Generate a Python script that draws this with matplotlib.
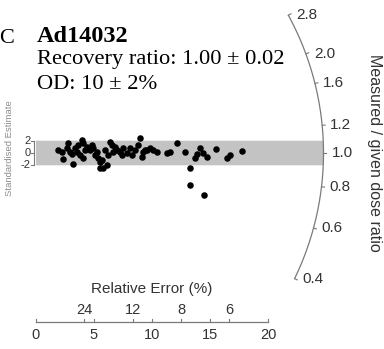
import matplotlib
matplotlib.use("Agg")
import matplotlib.pyplot as plt
import numpy as np

# precision (1/relative error) and standardised estimate of each aliquot
precision = [1.92, 2.22, 2.35, 2.65, 2.78, 2.93, 3.08, 3.16, 3.36, 3.51, 3.65, 3.79,
             3.94, 4.08, 4.08, 4.22, 4.37, 4.66, 4.80, 4.94, 5.09, 5.23, 5.37, 5.52,
             5.66, 5.80, 5.95, 6.09, 6.23, 6.38, 6.53, 6.66, 6.81, 6.96, 7.24, 7.39,
             7.53, 7.82, 8.10, 8.25, 8.53, 8.82, 8.97, 9.11, 9.25, 9.54, 9.40, 9.83,
             10.11, 10.41, 11.27, 11.55, 12.13, 12.84, 13.28, 13.28, 13.71, 13.85,
             14.14, 14.42, 14.72, 14.51, 15.49, 16.44, 16.72, 17.73, 5.52]
std_est = [0.49, 0.21, -1.02, 0.86, 1.58, 0.21, -0.21, -1.84, 0.76, 0.21, 1.30, -0.33,
           2.11, 1.58, -0.86, 0.49, 1.02, 0.49, 1.30, 0.76, -0.33, 0.21, -0.86, -1.41,
           -1.14, -2.49, 0.49, -1.95, -0.33, 1.84, 1.30, 0.21, 1.02, 0.49, 0.21, -0.33,
           0.76, -0.05, 0.76, -0.33, 0.49, 1.30, 2.39, -0.60, 0.21, 0.49, 0.49, 0.76,
           0.49, 0.21, -0.05, 0.11, 1.58, 0.11, -2.39, -5.20, -0.86, -0.21,
           0.76, -0.05, -0.60, -6.83, 0.60, -0.86, -0.33, 0.33, -2.44]

central = 1.00
ratio_ticks = [0.4, 0.6, 0.8, 1.0, 1.2, 1.6, 2.0, 2.8]
prec_ticks = [0, 5, 10, 15, 20]
rel_err_ticks = [24, 12, 8, 6]
z_ticks = [2, 0, -2]

# pixel scale of the plot
SX = 11.6      # px per precision unit
SY = 6.15      # px per standardised unit
X0, Y0 = 36, 153
R = 287.5      # arc radius, px
W, H = 384, 349

fig = plt.figure(figsize=(W / 100, H / 100), dpi=100)
ax = fig.add_axes([0, 0, 1, 1])
ax.set_xlim(-X0 / SX, (W - X0) / SX)
ax.set_ylim(-(H - Y0) / SY, Y0 / SY)
ax.axis('off')

sans = 'Liberation Sans'
serif = 'Liberation Serif'
txt = '#333333'
linec = '#7a7a7a'


def arc_pt(r, rad):
    th = np.arctan(SY * np.log(r / central) / SX)
    return rad * np.cos(th) / SX, rad * np.sin(th) / SY


# grey +-2 band
zb = np.linspace(2, -2, 30)
xb = np.sqrt(R ** 2 - (zb * SY) ** 2) / SX
ax.fill(np.r_[0, xb, 0], np.r_[2, zb, -2], color='#c3c3c3', lw=0, zorder=1)

# arc
rr = np.exp(np.linspace(np.log(0.4), np.log(2.8), 200))
ax.plot(*arc_pt(rr, R), color=linec, lw=0.9, zorder=2)
for r in ratio_ticks:
    x1, y1 = arc_pt(r, R)
    x2, y2 = arc_pt(r, R + 3)
    ax.plot([x1, x2], [y1, y2], color=linec, lw=0.8)
    ax.text(x1 + 8 / SX, y1, '%.1f' % r, ha='left', va='center',
            fontsize=11, family=sans, color=txt)

ax.scatter(precision, std_est, s=22, c='black', linewidths=0, zorder=3)

# standardised estimate axis
xa = -1.5 / SX
ax.plot([xa, xa], [-2, 2], color=linec, lw=0.8)
for z in z_ticks:
    ax.plot([xa, xa - 3 / SX], [z, z], color=linec, lw=0.8)
    ax.text(xa - 4 / SX, z, str(z), ha='right', va='center', fontsize=8,
            family=sans, color=txt)
ax.text(10 / SX - X0 / SX, 0.8, 'Standardised Estimate', rotation=90, ha='center',
        va='center', fontsize=6.8, family=sans, color='#8c8c8c')

# precision / relative error axis
yb = -(321.7 - Y0) / SY
ax.plot([0, 20], [yb, yb], color=linec, lw=0.9)
for p in prec_ticks:
    ax.plot([p, p], [yb, yb + 3 / SY], color=linec, lw=0.8)
    ax.text(p, yb - 13 / SY, str(p), ha='center', va='center', fontsize=10.5,
            family=sans, color=txt)
for e in rel_err_ticks:
    p = 100 / e
    ax.plot([p, p], [yb, yb + 3 / SY], color=linec, lw=0.8)
    ax.text(p, yb + 12 / SY, str(e), ha='center', va='center', fontsize=10.5,
            family=sans, color=txt)
ax.text(10, yb + 33 / SY, 'Relative Error (%)', ha='center', va='center',
        fontsize=11, family=sans, color=txt)

ax.text((375 - X0) / SX, 0.0, 'Measured / given dose ratio', rotation=-90,
        ha='center', va='center', fontsize=11.5, family=sans, color=txt)

# header
fig.text(-1 / W, 1 - 43 / H, 'C', fontsize=16, family=serif, va='baseline')
fig.text(37 / W, 1 - 41.5 / H, 'Ad14032', fontsize=17.5, family=serif,
         weight='bold', va='baseline')
fig.text(37 / W, 1 - 64 / H, 'Recovery ratio: 1.00 \u00b1 0.02', fontsize=16.2,
         family=serif, va='baseline')
fig.text(37 / W, 1 - 89 / H, 'OD: 10 \u00b1 2%', fontsize=16.2, family=serif,
         va='baseline')

fig.savefig('out.png', dpi=100)
